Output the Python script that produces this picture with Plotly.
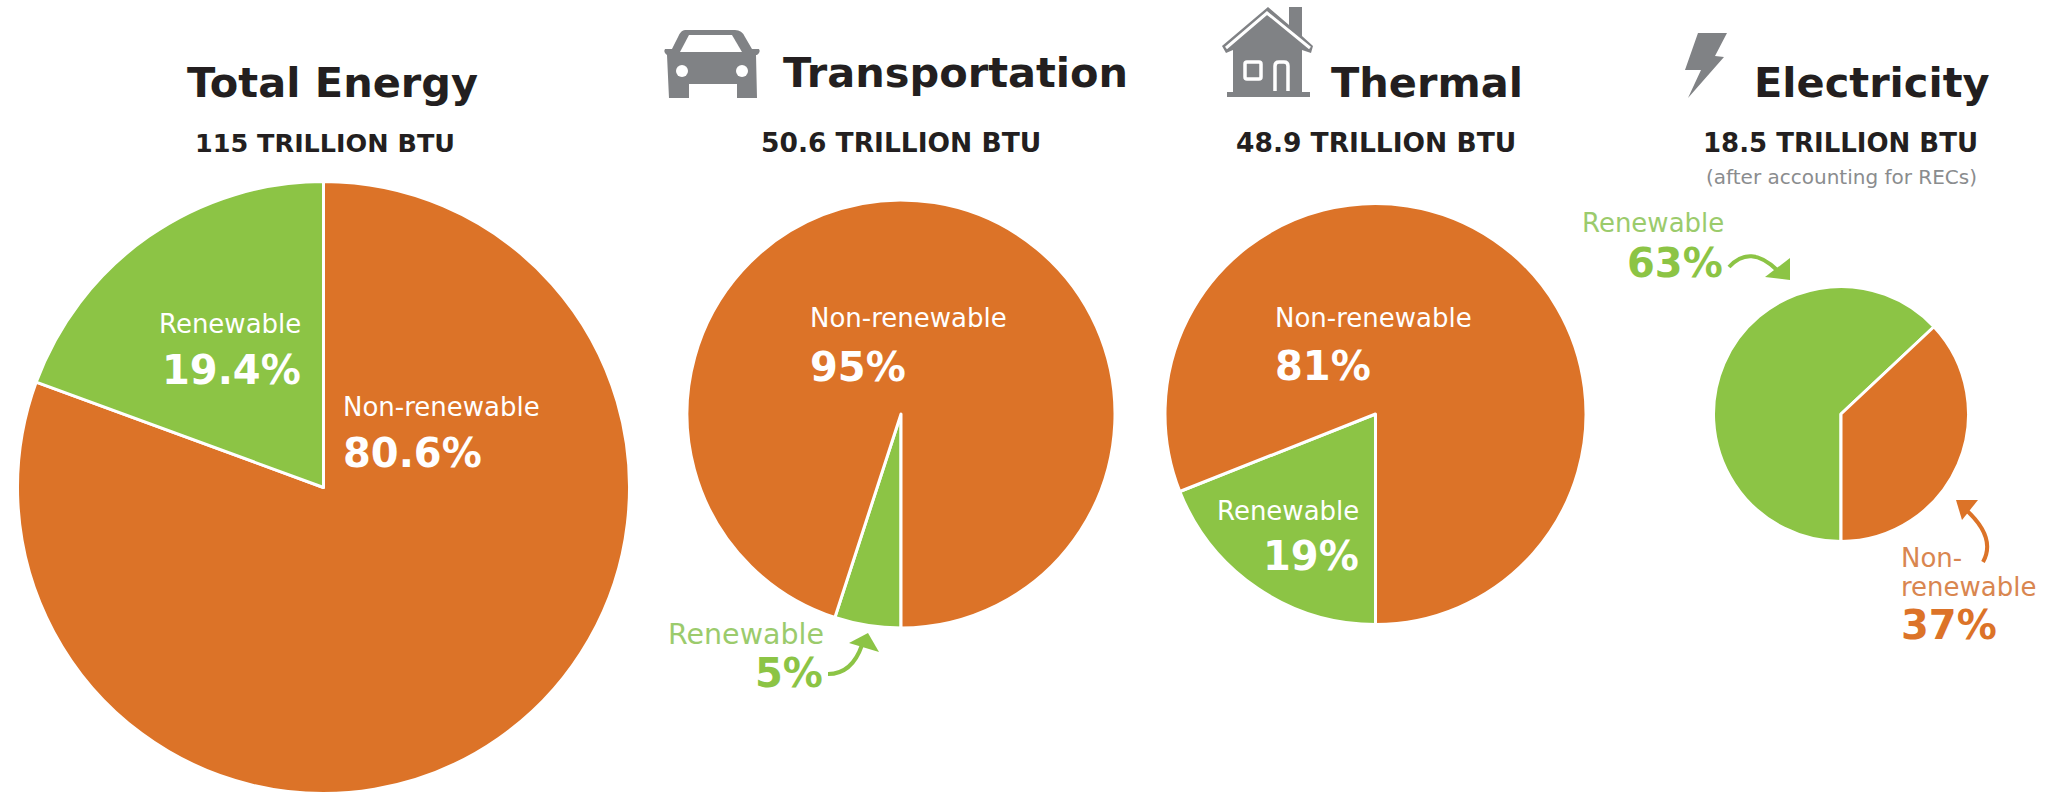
import plotly.graph_objects as go

W, H = 2057, 795
GREEN = "#8CC445"
LIGHT_GREEN = "#9BCB6C"
ORANGE = "#DC7328"
LIGHT_ORANGE = "#D98650"
DARK = "#231F20"
GREY = "#8A8C8E"
ICON = "#808285"
FONT = "DejaVu Sans"

sectors = ["Total Energy", "Transportation", "Thermal", "Electricity"]
totals = ["115 TRILLION BTU", "50.6 TRILLION BTU", "48.9 TRILLION BTU", "18.5 TRILLION BTU"]
renewable = [19.4, 5, 19, 63]
non_renewable = [80.6, 95, 81, 37]
slice_names = ["Renewable", "Non-renewable"]

# pie placement in page pixels: centre x, centre y, radius
pie_boxes = [(323.5, 487.5, 306), (901, 414, 214), (1375.5, 414, 210.5), (1841, 414, 127.5)]


def fx(x):
    return x / W


def fy(y):
    return 1 - y / H


def path(cmds):
    out = []
    for c in cmds:
        letter, coords = c[0], c[1:]
        pts = [f"{fx(coords[i]):.5f},{fy(coords[i + 1]):.5f}" for i in range(0, len(coords), 2)]
        out.append(letter + " " + " ".join(pts))
    return " ".join(out)


fig = go.Figure()

for i, name in enumerate(sectors):
    cx, cy, r = pie_boxes[i]
    if i == 0:
        labels, vals, cols, rot = slice_names[::-1], [non_renewable[i], renewable[i]], [ORANGE, GREEN], 0
    else:
        labels, vals, cols, rot = slice_names, [renewable[i], non_renewable[i]], [GREEN, ORANGE], 180
    fig.add_trace(go.Pie(
        name=name, labels=labels, values=vals, sort=False, direction="clockwise", rotation=rot,
        marker=dict(colors=cols, line=dict(color="white", width=3)),
        textinfo="none", showlegend=False,
        domain=dict(x=[fx(cx - r), fx(cx + r)], y=[fy(cy + r), fy(cy - r)]),
    ))

annotations = []


def text(s, x, baseline, size, color, anchor="left", weight=400):
    # y is given as the text baseline in page pixels
    annotations.append(dict(
        text=s, x=fx(x), y=fy(baseline + 0.236 * size), xref="paper", yref="paper",
        xanchor=anchor, yanchor="bottom", showarrow=False, borderpad=0,
        font=dict(family=FONT, size=size, color=color, weight=weight),
    ))


TITLE, SUB, LABEL, PCT = 41.5, 26.5, 26, 40

# headings
text(sectors[0], 332.5, 98, TITLE, DARK, "center", 700)
text(sectors[1], 955.5, 88, TITLE, DARK, "center", 700)
text(sectors[2], 1426.5, 98, TITLE, DARK, "center", 700)
text(sectors[3], 1871.5, 98, TITLE, DARK, "center", 700)
text(totals[0], 325, 153, 25.5, DARK, "center", 700)
text(totals[1], 901, 153, SUB, DARK, "center", 700)
text(totals[2], 1376, 153, SUB, DARK, "center", 700)
text(totals[3], 1840, 153, 26, DARK, "center", 700)
text("(after accounting for RECs)", 1841, 185, 20, GREY, "center", 400)

# labels inside and around the pies
text(slice_names[0], 302, 334, LABEL, "white", "right")
text(f"{renewable[0]}%", 302, 385, PCT, "white", "right", 700)
text(slice_names[1], 342, 417, LABEL, "white", "left")
text(f"{non_renewable[0]}%", 342, 468, PCT, "white", "left", 700)

text(slice_names[1], 809, 328, LABEL, "white", "left")
text(f"{non_renewable[1]}%", 809, 382, PCT, "white", "left", 700)
text(slice_names[0], 825, 645, 28.5, LIGHT_GREEN, "right")
text(f"{renewable[1]}%", 824, 688, PCT, GREEN, "right", 700)

text(slice_names[1], 1274, 328, LABEL, "white", "left")
text(f"{non_renewable[2]}%", 1274, 381, PCT, "white", "left", 700)
text(slice_names[0], 1360, 521, LABEL, "white", "right")
text(f"{renewable[2]}%", 1360, 571, PCT, "white", "right", 700)

text(slice_names[0], 1725, 233, LABEL, LIGHT_GREEN, "right")
text(f"{renewable[3]}%", 1724, 278, PCT, GREEN, "right", 700)
text("Non-", 1900, 568, LABEL, LIGHT_ORANGE, "left")
text("renewable", 1900, 597, LABEL, LIGHT_ORANGE, "left")
text(f"{non_renewable[3]}%", 1900, 640, PCT, ORANGE, "left", 700)

shapes = []


def fill(cmds, color):
    shapes.append(dict(type="path", xref="paper", yref="paper", path=path(cmds),
                       fillcolor=color, line=dict(width=0), layer="above"))


def stroke(cmds, color, width):
    shapes.append(dict(type="path", xref="paper", yref="paper", path=path(cmds),
                       line=dict(color=color, width=width), layer="above"))


# arrows
stroke([("M", 828, 674), ("Q", 852, 674, 862, 645)], GREEN, 4)
fill([("M", 868, 633), ("L", 879, 652), ("L", 849, 643), ("Z",)], GREEN)
stroke([("M", 1729, 267), ("Q", 1750, 244, 1777, 270)], GREEN, 4)
fill([("M", 1790, 280), ("L", 1765, 277), ("L", 1790, 258), ("Z",)], GREEN)
stroke([("M", 1983, 562), ("Q", 1997, 537, 1964, 508)], ORANGE, 4)
fill([("M", 1956, 500), ("L", 1978, 500), ("L", 1962, 520), ("Z",)], ORANGE)

# car icon
fill([("M", 685, 30), ("L", 735, 30), ("Q", 742, 30, 745, 37), ("L", 752, 49), ("L", 759, 49), ("Q", 761, 52, 757, 55),
      ("L", 756, 55), ("L", 757, 98), ("L", 737, 98), ("L", 737, 84), ("L", 689, 84), ("L", 689, 98), ("L", 669, 98),
      ("L", 667, 55), ("Q", 663, 52, 665, 49), ("L", 672, 49), ("L", 678, 37), ("Q", 681, 30, 685, 30), ("Z",)], ICON)
fill([("M", 680, 52), ("L", 689, 35), ("L", 732, 35), ("L", 742, 52), ("Z",)], "white")
for lx in (682, 742):
    shapes.append(dict(type="circle", xref="paper", yref="paper", x0=fx(lx - 6), x1=fx(lx + 6),
                       y0=fy(71 + 6), y1=fy(71 - 6), fillcolor="white", line=dict(width=0), layer="above"))

# house icon
fill([("M", 1268, 7), ("L", 1289, 25), ("L", 1289, 7), ("L", 1302, 7), ("L", 1302, 36), ("L", 1313, 46), ("L", 1311, 53),
      ("L", 1302, 50), ("L", 1302, 92), ("L", 1310, 92), ("L", 1310, 97), ("L", 1227, 97), ("L", 1227, 92), ("L", 1233, 92),
      ("L", 1233, 50), ("L", 1226, 53), ("L", 1222, 46), ("Z",)], ICON)
stroke([("M", 1226, 48), ("L", 1267, 13), ("L", 1310, 48)], "white", 3)
stroke([("M", 1275, 91), ("L", 1275, 66), ("Q", 1275, 62, 1279, 62), ("L", 1284, 62), ("Q", 1288, 62, 1288, 66), ("L", 1288, 91)], "white", 3.5)
stroke([("M", 1247, 62), ("L", 1259, 62), ("Q", 1261, 62, 1261, 64), ("L", 1261, 77), ("Q", 1261, 79, 1259, 79),
        ("L", 1247, 79), ("Q", 1245, 79, 1245, 77), ("L", 1245, 64), ("Q", 1245, 62, 1247, 62), ("Z",)], "white", 3.5)

# lightning bolt icon
fill([("M", 1698, 33), ("L", 1727, 33), ("L", 1715, 56), ("L", 1724, 57), ("L", 1688, 98), ("L", 1701, 70), ("L", 1685, 70), ("Z",)], ICON)

fig.update_layout(
    width=W, height=H, margin=dict(l=0, r=0, t=0, b=0), paper_bgcolor="white", plot_bgcolor="white",
    annotations=annotations, shapes=shapes, showlegend=False,
)
fig.write_html("out.html", config={"displayModeBar": False},
               post_script="document.body.style.margin='0';document.body.style.overflow='hidden';")
